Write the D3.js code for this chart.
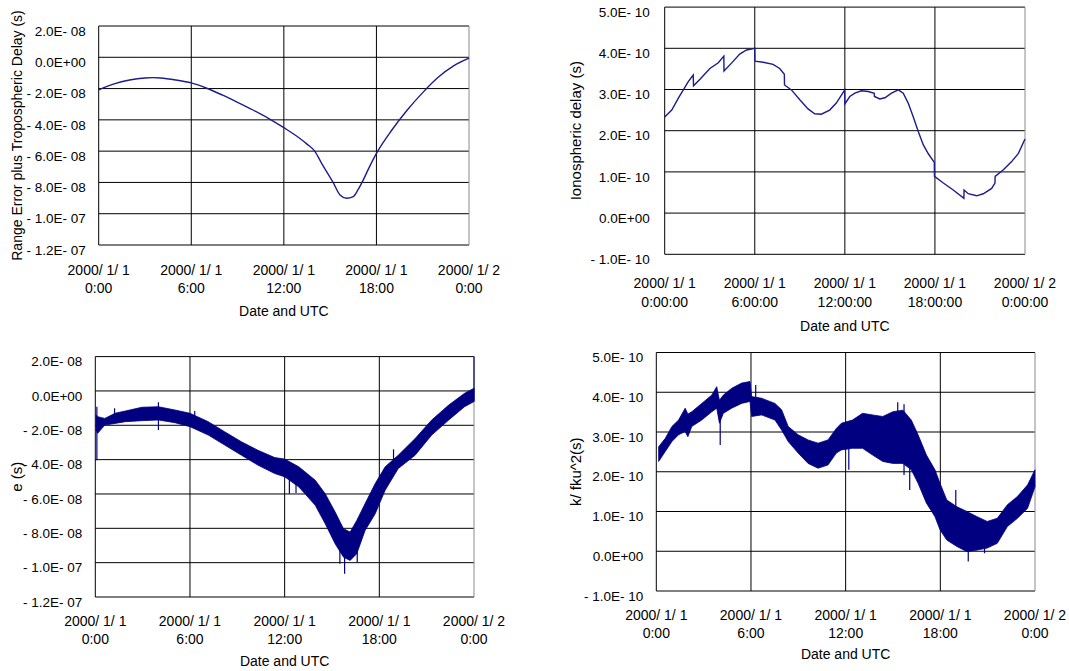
<!DOCTYPE html>
<html>
<head>
<meta charset="utf-8">
<script src="https://cdn.jsdelivr.net/npm/d3@7"></script>
<style>
  body { margin: 0; background: #fff; }
  svg { display: block; font-family: "Liberation Sans", Arial, sans-serif; }
</style>
</head>
<body>
<script>
// x values are hours after 2000/1/1 0:00 UTC
let hourTicks = [0, 6, 12, 18, 24]
let dateLabels = ["2000/ 1/ 1", "2000/ 1/ 1", "2000/ 1/ 1", "2000/ 1/ 1", "2000/ 1/ 2"]
let timeLabels = ["0:00", "6:00", "12:00", "18:00", "0:00"]
let timeLabelsSec = ["0:00:00", "6:00:00", "12:00:00", "18:00:00", "0:00:00"]

// y ticks for the two left panels (seconds)
let errTicks = [2e-8, 0, -2e-8, -4e-8, -6e-8, -8e-8, -1e-7, -1.2e-7]
let errTickLabels = ["2.0E- 08", "0.0E+00", "- 2.0E- 08", "- 4.0E- 08", "- 6.0E- 08", "- 8.0E- 08", "- 1.0E- 07", "- 1.2E- 07"]
// y ticks for the two right panels (seconds)
let ionoTicks = [5e-10, 4e-10, 3e-10, 2e-10, 1e-10, 0, -1e-10]
let ionoTickLabels = ["5.0E- 10", "4.0E- 10", "3.0E- 10", "2.0E- 10", "1.0E- 10", "0.0E+00", "- 1.0E- 10"]

// top left: range error plus tropospheric delay
let rangeHours = [0, 0.5, 1, 2, 3, 3.5, 4, 5, 6, 7, 8, 9, 10, 11, 12, 13, 13.5, 14, 14.45, 14.77,
  15.2, 15.64, 16.07, 16.5, 16.8, 17.15, 17.5, 18, 19, 20, 21, 22, 23, 24]
let rangeValues = [-2.09e-8, -1.88e-8, -1.70e-8, -1.45e-8, -1.32e-8, -1.30e-8, -1.32e-8, -1.45e-8, -1.64e-8,
  -1.98e-8, -2.41e-8, -2.88e-8, -3.37e-8, -3.90e-8, -4.50e-8, -5.16e-8, -5.55e-8, -6.00e-8, -6.78e-8, -7.31e-8,
  -8.01e-8, -8.80e-8, -9.01e-8, -8.90e-8, -8.48e-8, -7.84e-8, -7.10e-8, -6.14e-8, -4.65e-8, -3.37e-8,
  -2.26e-8, -1.28e-8, -0.55e-8, -0.06e-8]

// top right: ionospheric delay (vertical steps are two readings at almost the same time)
let ionoHours = [0, 0.47, 0.91, 1.24, 1.57, 1.90, 1.92, 2.35, 3.01, 3.57, 3.94, 3.95, 4.45, 5.0, 5.45, 6.0, 6.01,
  6.56, 7.22, 7.66, 7.97, 7.98, 8.44, 9.0, 9.55, 9.99, 10.43, 10.99, 11.43, 11.92, 11.99, 12.0, 12.33, 12.67,
  13.1, 13.56, 13.96, 13.97, 14.33, 14.67, 15.11, 15.56, 15.89, 16.22, 16.56, 16.89, 17.22, 17.56, 17.96,
  17.97, 18.56, 19.22, 19.93, 19.94, 20.22, 20.78, 21.22, 21.78, 22.0, 22.01, 22.56, 23.11, 23.56, 24]
let ionoValues = [2.33e-10, 2.50e-10, 2.79e-10, 2.99e-10, 3.19e-10, 3.35e-10, 3.09e-10, 3.25e-10, 3.51e-10,
  3.65e-10, 3.81e-10, 3.45e-10, 3.64e-10, 3.86e-10, 3.96e-10, 4.00e-10, 3.69e-10, 3.66e-10, 3.61e-10,
  3.51e-10, 3.37e-10, 3.11e-10, 2.99e-10, 2.75e-10, 2.53e-10, 2.41e-10, 2.40e-10, 2.50e-10, 2.67e-10,
  2.95e-10, 2.99e-10, 2.65e-10, 2.83e-10, 2.91e-10, 2.97e-10, 2.95e-10, 2.91e-10, 2.83e-10, 2.77e-10,
  2.80e-10, 2.91e-10, 2.99e-10, 2.91e-10, 2.67e-10, 2.33e-10, 1.98e-10, 1.66e-10, 1.44e-10, 1.23e-10,
  0.89e-10, 0.73e-10, 0.56e-10, 0.36e-10, 0.56e-10, 0.47e-10, 0.42e-10, 0.47e-10, 0.60e-10, 0.73e-10,
  0.89e-10, 1.05e-10, 1.25e-10, 1.45e-10, 1.80e-10]

// bottom left: e, a noisy trace read as its lower and upper edge
let eHours = [0.05, 0.15, 0.6, 1.25, 1.9, 2.95, 4.0, 5.05, 6.0, 7.16, 8.2, 9.26, 10.3, 11.37, 12.0, 12.9,
  13.94, 14.57, 15.2, 15.73, 16.15, 16.57, 17.1, 17.74, 18.37, 19.2, 20.27, 21.32, 22.4, 23.4, 24]
let eLow = [-2.3e-8, -2.47e-8, -1.99e-8, -1.89e-8, -1.79e-8, -1.73e-8, -1.69e-8, -1.85e-8, -2.08e-8, -2.57e-8,
  -3.15e-8, -3.74e-8, -4.32e-8, -4.81e-8, -5.0e-8, -5.59e-8, -6.66e-8, -7.73e-8, -8.90e-8, -9.68e-8,
  -9.87e-8, -9.48e-8, -8.12e-8, -7.15e-8, -5.78e-8, -4.52e-8, -3.74e-8, -2.57e-8, -1.69e-8, -0.92e-8, -0.62e-8]
let eHigh = [-1.4e-8, -1.50e-8, -1.60e-8, -1.30e-8, -1.17e-8, -0.95e-8, -0.92e-8, -1.11e-8, -1.30e-8, -1.79e-8,
  -2.38e-8, -2.96e-8, -3.45e-8, -3.88e-8, -3.97e-8, -4.42e-8, -5.20e-8, -5.98e-8, -7.05e-8, -8.02e-8,
  -8.22e-8, -7.54e-8, -6.56e-8, -5.39e-8, -4.42e-8, -3.74e-8, -2.77e-8, -1.69e-8, -0.82e-8, -0.14e-8, 0.16e-8]
// single outliers: [hour, low, high]
let eSpikes = [[0.1, -4.03e-8, -0.92e-8], [1.22, -1.6e-8, -1.01e-8], [4.0, -2.28e-8, -0.66e-8],
  [6.3, -1.6e-8, -1.17e-8], [12.3, -5.98e-8, -4.5e-8], [12.72, -5.95e-8, -4.8e-8],
  [15.5, -10.07e-8, -9.0e-8], [15.8, -10.65e-8, -9.3e-8], [16.6, -10.0e-8, -9.0e-8],
  [18.9, -4.5e-8, -3.4e-8], [24, -0.6e-8, 2.0e-8]]

// bottom right: k/fku^2, read as its lower and upper edge
let kHours = [0.15, 0.57, 0.99, 1.41, 1.83, 2.0, 2.25, 2.88, 3.52, 3.83, 4.0, 4.25, 4.78, 5.41, 5.94, 6.04,
  6.67, 7.52, 7.94, 8.36, 8.99, 9.62, 10.25, 10.88, 11.41, 11.73, 12.43, 13.07, 13.71, 14.35, 14.99, 15.63,
  16.16, 16.59, 17.12, 17.66, 17.98, 18.41, 19.05, 19.69, 20.33, 20.97, 21.61, 22.25, 22.89, 23.53, 24]
let kLow = [2.26e-10, 2.51e-10, 2.76e-10, 2.93e-10, 3.01e-10, 2.88e-10, 3.14e-10, 3.30e-10, 3.51e-10, 3.60e-10,
  3.22e-10, 3.47e-10, 3.60e-10, 3.72e-10, 3.77e-10, 3.39e-10, 3.43e-10, 3.30e-10, 3.05e-10, 2.76e-10,
  2.47e-10, 2.21e-10, 2.09e-10, 2.17e-10, 2.47e-10, 2.55e-10, 2.59e-10, 2.59e-10, 2.42e-10, 2.26e-10,
  2.21e-10, 2.21e-10, 2.05e-10, 1.71e-10, 1.21e-10, 0.87e-10, 0.54e-10, 0.28e-10, 0.12e-10, -0.01e-10,
  0.03e-10, 0.08e-10, 0.20e-10, 0.62e-10, 0.83e-10, 1.08e-10, 1.62e-10]
let kHigh = [2.63e-10, 2.84e-10, 3.14e-10, 3.30e-10, 3.60e-10, 3.45e-10, 3.51e-10, 3.72e-10, 3.93e-10, 4.14e-10,
  3.80e-10, 3.93e-10, 4.10e-10, 4.23e-10, 4.27e-10, 3.89e-10, 3.85e-10, 3.72e-10, 3.56e-10, 3.14e-10,
  2.93e-10, 2.80e-10, 2.72e-10, 2.80e-10, 3.09e-10, 3.22e-10, 3.30e-10, 3.47e-10, 3.43e-10, 3.39e-10,
  3.51e-10, 3.55e-10, 3.30e-10, 2.93e-10, 2.42e-10, 2.05e-10, 1.71e-10, 1.29e-10, 1.12e-10, 1.00e-10,
  0.87e-10, 0.75e-10, 0.83e-10, 1.17e-10, 1.38e-10, 1.67e-10, 2.05e-10]
let kSpikes = [[4.05, 2.67e-10, 3.6e-10], [6.3, 3.8e-10, 4.18e-10], [12.2, 2.05e-10, 2.8e-10],
  [15.3, 3.2e-10, 3.75e-10], [15.7, 1.92e-10, 3.7e-10], [16.06, 1.54e-10, 2.5e-10],
  [18.98, 1.0e-10, 1.54e-10], [19.77, -0.26e-10, 0.2e-10], [20.8, -0.05e-10, 0.3e-10]]

let width = 1069, height = 671
let lineColor = "#1c1c8c", bandColor = "#000080"

let svg = d3.select("body")
  .append("svg")
  .attr("width", width)
  .attr("height", height)
  .attr("font-size", 13.5)

// draws the frame, grid, tick labels and titles of one panel, returns its scales
function drawPanel(p) {
  let x = d3.scaleLinear().domain([0, 24]).range([p.x0, p.x1])
  let y = d3.scaleLinear().domain(p.yDomain).range([p.y1, p.y0])
  let g = svg.append("g")

  // horizontal grid
  g.append("g")
    .selectAll("line")
    .data(p.yTicks)
    .join("line")
    .attr("x1", p.x0)
    .attr("x2", p.x1)
    .attr("y1", d => y(d))
    .attr("y2", d => y(d))
    .attr("stroke", "#000")

  // vertical grid, the last one is the grey right border
  g.append("g")
    .selectAll("line")
    .data(hourTicks)
    .join("line")
    .attr("x1", d => x(d))
    .attr("x2", d => x(d))
    .attr("y1", p.y0)
    .attr("y2", p.y1)
    .attr("stroke", d => d === 24 ? "#8a8a8a" : "#000")

  // y tick labels
  g.append("g")
    .selectAll("text")
    .data(p.yTicks)
    .join("text")
    .attr("x", p.x0 - p.labelGap)
    .attr("y", d => y(d) + 5)
    .attr("dy", "0.35em")
    .attr("text-anchor", "end")
    .text((d, i) => p.yLabels[i])

  // x tick labels, two lines each
  let xt = g.append("g")
    .attr("font-size", 14)
    .selectAll("g")
    .data(hourTicks)
    .join("g")
    .attr("transform", d => `translate(${x(d)},${p.y1})`)
    .attr("text-anchor", "middle")
  xt.append("text")
    .attr("y", p.row1)
    .attr("dy", "0.35em")
    .text((d, i) => dateLabels[i])
  xt.append("text")
    .attr("y", p.row2)
    .attr("dy", "0.35em")
    .text((d, i) => p.timeLabels[i])

  // axis titles
  g.append("text")
    .attr("x", (p.x0 + p.x1) / 2)
    .attr("y", p.y1 + p.row3)
    .attr("dy", "0.35em")
    .attr("font-size", 14)
    .attr("text-anchor", "middle")
    .text("Date and UTC")
  g.append("text")
    .attr("transform", `translate(${p.titleX},${(p.y0 + p.y1) / 2}) rotate(-90)`)
    .attr("dy", "0.35em")
    .attr("font-size", p.titleSize)
    .attr("text-anchor", "middle")
    .text(p.yTitle)

  return { x, y, g }
}

// smooth trace
function drawLine(s, hours, values, curve) {
  s.g.append("path")
    .datum(hours.map((h, i) => [h, values[i]]))
    .attr("fill", "none")
    .attr("stroke", lineColor)
    .attr("stroke-width", 1.4)
    .attr("d", d3.line().x(d => s.x(d[0])).y(d => s.y(d[1])).curve(curve))
}

// noisy trace: filled band between the edges plus the outliers
function drawBand(s, hours, low, high, spikes) {
  s.g.append("path")
    .datum(hours.map((h, i) => [h, low[i], high[i]]))
    .attr("fill", bandColor)
    .attr("stroke", bandColor)
    .attr("stroke-width", 0.8)
    .attr("d", d3.area().x(d => s.x(d[0])).y0(d => s.y(d[1])).y1(d => s.y(d[2])))
  s.g.append("g")
    .selectAll("line")
    .data(spikes)
    .join("line")
    .attr("x1", d => s.x(d[0]))
    .attr("x2", d => s.x(d[0]))
    .attr("y1", d => s.y(d[1]))
    .attr("y2", d => s.y(d[2]))
    .attr("stroke", bandColor)
    .attr("stroke-width", 1.2)
}

let topLeft = drawPanel({
  x0: 98.7, x1: 469, y0: 26, y1: 245, yDomain: [-1.2e-7, 2e-8],
  yTicks: errTicks, yLabels: errTickLabels, labelGap: 13, timeLabels: timeLabels,
  row1: 25, row2: 43, row3: 66, titleX: 17, titleSize: 14, yTitle: "Range Error plus Tropospheric Delay (s)"
})
drawLine(topLeft, rangeHours, rangeValues, d3.curveMonotoneX)

let topRight = drawPanel({
  x0: 664.7, x1: 1025, y0: 7.1, y1: 254.3, yDomain: [-1e-10, 5e-10],
  yTicks: ionoTicks, yLabels: ionoTickLabels, labelGap: 15, timeLabels: timeLabelsSec,
  row1: 29, row2: 48, row3: 72, titleX: 576, titleSize: 15, yTitle: "Ionospheric delay (s)"
})
drawLine(topRight, ionoHours, ionoValues, d3.curveLinear)

let bottomLeft = drawPanel({
  x0: 95.3, x1: 474, y0: 356.6, y1: 597, yDomain: [-1.2e-7, 2e-8],
  yTicks: errTicks, yLabels: errTickLabels, labelGap: 13, timeLabels: timeLabels,
  row1: 24, row2: 42, row3: 64, titleX: 17, titleSize: 15, yTitle: "e (s)"
})
drawBand(bottomLeft, eHours, eLow, eHigh, eSpikes)

let bottomRight = drawPanel({
  x0: 656.3, x1: 1035, y0: 352.5, y1: 591, yDomain: [-1e-10, 5e-10],
  yTicks: ionoTicks, yLabels: ionoTickLabels, labelGap: 13, timeLabels: timeLabels,
  row1: 24, row2: 42, row3: 63, titleX: 576, titleSize: 15, yTitle: "k/ fku^2(s)"
})
drawBand(bottomRight, kHours, kLow, kHigh, kSpikes)
</script>
</body>
</html>
